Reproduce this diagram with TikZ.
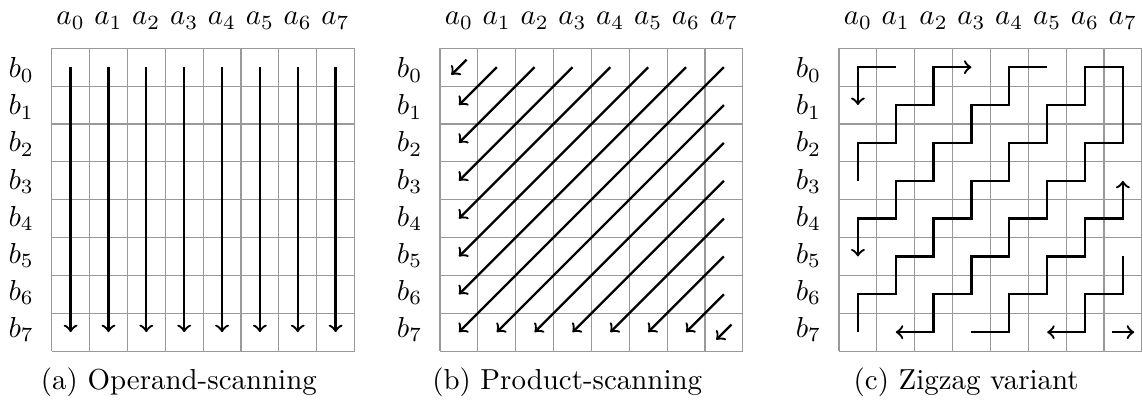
\documentclass[tikz,border=0pt]{standalone}
\usetikzlibrary{calc}

\begin{document}
\begin{tikzpicture}[x=0.46cm, y=0.46cm,
  cellgrid/.style={draw=gray!80, line width=0.4pt},
  arr/.style={->, thick},
  toplab/.style={anchor=base},
  sidelab/.style={anchor=base east},
  captext/.style={anchor=base}
]
  \useasboundingbox (0,0) rectangle (30.198,-10.753);
  % three grids with their labels and cell centres
  \foreach \p/\x/\txt in {op/1.366/{(a) Operand-scanning}, pr/11.625/{(b) Product-scanning}, zz/22.166/{(c) Zigzag variant}}{
    \begin{scope}[shift={(\x,-1.276)}]
      \draw[cellgrid, step=1] (0,0) grid (8,-8);
      \foreach \i in {0,...,7}{
        \node[toplab] (\p a\i) at (\i+0.5,0.62) {$a_{\i}$};
        \node[sidelab] (\p b\i) at (-0.2,-0.78-0.98*\i) {$b_{\i}$};
        \foreach \j in {0,...,7}{\coordinate (\p\i\j) at (\i+0.5,-\j-0.5);}
      }
      \node[captext] (\p cap) at (3.36,-9.02) {\txt};
    \end{scope}
  }

  % (a) columns
  \foreach \i in {0,...,7}{\draw[arr] (op\i0) -- (op\i7);}

  % (b) diagonals
  \draw[arr] ($(pr00)+(0.2,0.2)$) -- ($(pr00)+(-0.2,-0.2)$);
  \foreach \k in {1,...,13}{
    \pgfmathtruncatemacro{\sx}{min(\k,7)}
    \pgfmathtruncatemacro{\sy}{\k-\sx}
    \draw[arr] (pr\sx\sy) -- (pr\sy\sx);
  }
  \draw[arr] ($(pr77)+(0.2,0.2)$) -- ($(pr77)+(-0.2,-0.2)$);

  % (c) zigzag
  \draw[arr] (zz10) -| (zz01);
  \draw[arr] (zz03) |- (zz12) |- (zz21) |- (zz30);
  \draw[arr] (zz50) -| (zz41) -| (zz32) -| (zz23) -| (zz14) -| (zz05);
  \draw[arr] (zz07) |- (zz16) |- (zz25) |- (zz34) |- (zz43) |- (zz52) |- (zz61) |- (zz70) -- (zz72)
    -| (zz63) -| (zz54) -| (zz45) -| (zz36) -| (zz27) -- (zz17);
  \draw[arr] (zz37) -| (zz46) -| (zz55) -| (zz64) -| (zz73);
  \draw[arr] (zz75) |- (zz66) |- (zz57);
  \draw[arr] ($(zz77)+(-0.3,0)$) -- ($(zz77)+(0.3,0)$);
\end{tikzpicture}
\end{document}
